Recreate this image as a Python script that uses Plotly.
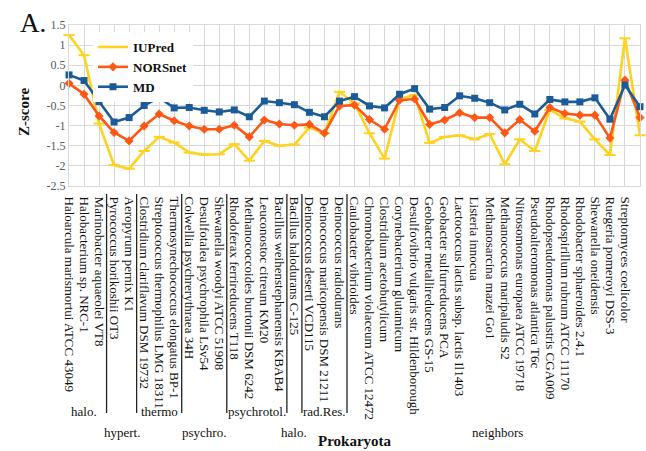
import plotly.graph_objects as go

# Organisms on the x axis (in plotting order)
organisms = [
    "Haloarcula marismortui ATCC 43049",
    "Halobacterium sp. NRC-1",
    "Marinobacter aquaeolei VT8",
    "Pyrococcus horikoshii OT3",
    "Aeropyrum pernix K1",
    "Clostridium clariflavum DSM 19732",
    "Streptococcus thermophilus LMG 18311",
    "Thermosynechococcus elongatus BP-1",
    "Colwellia psychrerythraea 34H",
    "Desulfotalea psychrophila LSv54",
    "Shewanella woodyi ATCC 51908",
    "Rhodoferax ferrireducens T118",
    "Methanococcoides burtonii DSM 6242",
    "Leuconostoc citreum KM20",
    "Bacillus weihenstephanensis KBAB4",
    "Bacillus halodurans C-125",
    "Deinococcus deserti VCD115",
    "Deinococcus maricopensis DSM 21211",
    "Deinococcus radiodurans",
    "Caulobacter vibrioides",
    "Chromobacterium violaceum ATCC 12472",
    "Clostridium acetobutylicum",
    "Corynebacterium glutamicum",
    "Desulfovibrio vulgaris str. Hildenborough",
    "Geobacter metallireducens GS-15",
    "Geobacter sulfurreducens PCA",
    "Lactococcus lactis subsp. lactis Il1403",
    "Listeria innocua",
    "Methanosarcina mazei Go1",
    "Methanococcus maripaludis S2",
    "Nitrosomonas europaea ATCC 19718",
    "Pseudoalteromonas atlantica T6c",
    "Rhodopseudomonas palustris CGA009",
    "Rhodospirillum rubrum ATCC 11170",
    "Rhodobacter sphaeroides 2.4.1",
    "Shewanella oneidensis",
    "Ruegeria pomeroyi DSS-3",
    "Streptomyces coelicolor",
    "Synechococcus elongatus PCC 6301",
]

# Z-scores per predictor
iupred = [1.25, 0.75, -0.95, -1.98, -2.07, -1.63, -1.28, -1.42, -1.67, -1.72,
          -1.71, -1.46, -1.87, -1.38, -1.50, -1.47, -1.05, -1.19, -0.16, -0.45,
          -1.19, -1.82, -0.34, -0.24, -1.43, -1.28, -1.24, -1.34, -1.21, -1.96,
          -1.34, -1.63, -0.61, -0.82, -0.90, -1.34, -1.73, 1.17, -1.24]
norsnet = [0.05, -0.22, -0.76, -1.17, -1.38, -1.01, -0.71, -0.88, -1.01, -1.09,
           -1.09, -0.99, -1.28, -0.86, -0.96, -0.99, -0.97, -1.19, -0.51, -0.49,
           -0.85, -1.09, -0.37, -0.34, -0.97, -0.86, -0.68, -0.80, -0.80, -1.18,
           -0.85, -1.14, -0.55, -0.70, -0.74, -0.74, -1.31, 0.13, -0.80]
md = [0.26, 0.12, -0.40, -0.91, -0.80, -0.50, -0.30, -0.56, -0.55, -0.62,
      -0.66, -0.61, -0.78, -0.39, -0.43, -0.48, -0.67, -0.78, -0.39, -0.28,
      -0.51, -0.56, -0.22, -0.08, -0.59, -0.55, -0.26, -0.32, -0.43, -0.61,
      -0.47, -0.71, -0.35, -0.41, -0.41, -0.31, -0.84, 0.01, -0.53]

# Habitat groups: (label, first index, last index, label row)
groups = [
    ("halo.", 0, 2, 0),
    ("hypert.", 3, 4, 1),
    ("thermo", 5, 7, 0),
    ("psychro.", 8, 10, 1),
    ("psychrotol.", 11, 14, 0),
    ("halo.", 15, 15, 1),
    ("rad.Res.", 16, 18, 0),
    ("neighbors", 19, 38, 1),
]
separators = [2.5, 4.5, 7.5, 10.5, 14.5, 15.5, 18.5]

y_ticks = [1.5, 1, 0.5, 0, -0.5, -1, -1.5, -2, -2.5]

SERIF = "Liberation Serif"
W, H = 646, 451
L, R, T, B = 69, 6, 25, 265
plot_w = W - L - R
plot_h = H - T - B

xs = list(range(len(organisms)))

fig = go.Figure()
fig.add_trace(go.Scatter(
    x=xs, y=iupred, name="IUPred", mode="lines+markers",
    line=dict(color="#FFD21F", width=2.6),
    marker=dict(symbol="line-ew", size=8, line=dict(color="#FFD21F", width=2)),
    cliponaxis=False))
fig.add_trace(go.Scatter(
    x=xs, y=norsnet, name="NORSnet", mode="lines+markers",
    line=dict(color="#FF5714", width=2.6),
    marker=dict(symbol="diamond", size=7, color="#FF5714"),
    cliponaxis=False))
fig.add_trace(go.Scatter(
    x=xs, y=md, name="MD", mode="lines+markers",
    line=dict(color="#1B5C98", width=2.6),
    marker=dict(symbol="square", size=7, color="#1B5C98"),
    cliponaxis=False))


def px(pixel_x):
    """Convert a pixel column to paper x."""
    return (pixel_x - L) / plot_w


def py(pixel_y):
    """Convert a pixel row to paper y."""
    return (H - B - pixel_y) / plot_h


shapes = []
for s in separators:
    shapes.append(dict(type="line", xref="x", yref="paper",
                       x0=s, x1=s, y0=py(194), y1=py(413),
                       line=dict(color="#222222", width=1.3)))

annotations = []
for label, a, b, row in groups:
    annotations.append(dict(
        x=(a + b) / 2, y=py(412 if row == 0 else 432), xref="x", yref="paper",
        text=label, showarrow=False, xanchor="center", yanchor="middle",
        font=dict(family=SERIF, size=13, color="#111111")))

annotations += [
    dict(x=19, y=py(441), xref="x", yref="paper", text="<b>Prokaryota</b>",
         showarrow=False, xanchor="center", yanchor="middle",
         font=dict(family=SERIF, size=15, color="#111111")),
    dict(x=px(24), y=py(112), xref="paper", yref="paper",
         text="<b>Z-score</b>", textangle=-90, showarrow=False,
         xanchor="center", yanchor="middle",
         font=dict(family=SERIF, size=15, color="#111111")),
    # Panel letter
    dict(x=px(18), y=py(23), xref="paper", yref="paper",
         text="A.", showarrow=False, xanchor="left", yanchor="middle",
         font=dict(family=SERIF, size=27, color="#111111")),
]

fig.update_layout(
    width=W, height=H,
    margin=dict(l=L, r=R, t=T, b=B),
    paper_bgcolor="white", plot_bgcolor="white",
    showlegend=True,
    legend=dict(x=px(93), y=py(32), xanchor="left", yanchor="top",
                bgcolor="white", tracegroupgap=0, itemwidth=30,
                font=dict(family=SERIF, size=13, color="#111111",
                          weight="bold")),
    shapes=shapes,
    annotations=annotations,
    font=dict(family=SERIF),
)

fig.update_xaxes(
    range=[0, len(organisms) - 1], tickmode="array", tickvals=xs,
    ticktext=organisms, tickangle=90,
    tickfont=dict(family=SERIF, size=13, color="#111111"),
    showgrid=True, gridcolor="#D9D9D9", gridwidth=1,
    showline=True, linecolor="#D9D9D9", mirror=True,
    ticks="outside", ticklen=7, tickcolor="rgba(0,0,0,0)",
    zeroline=False)
fig.update_yaxes(
    range=[-2.5, 1.5], tickmode="array", tickvals=y_ticks,
    ticktext=[f"{v:g}" for v in y_ticks],
    tickfont=dict(family=SERIF, size=12, color="#595959"),
    showgrid=True, gridcolor="#D9D9D9", gridwidth=1,
    showline=True, linecolor="#D9D9D9", mirror=True,
    ticks="", zeroline=False)

fig.write_html("out.html")
